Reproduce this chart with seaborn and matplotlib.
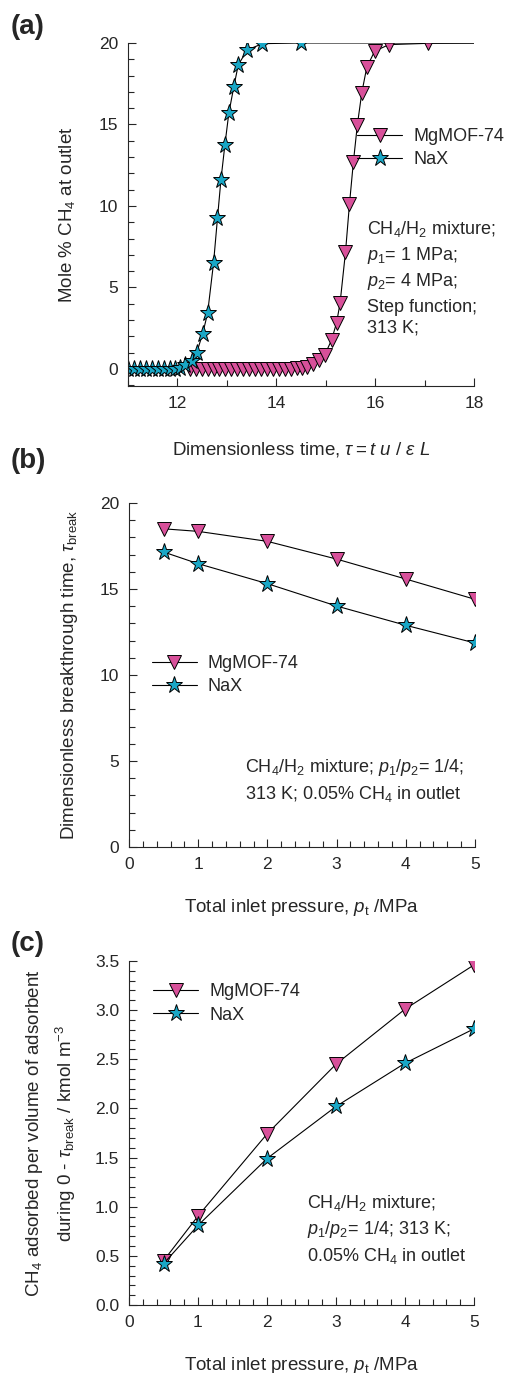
import matplotlib
matplotlib.use("Agg")
import matplotlib.pyplot as plt
from matplotlib.lines import Line2D
from matplotlib.ticker import MultipleLocator, FormatStrFormatter
import seaborn as sns

# colours of the two adsorbents
mg_color = '#d8509a'
nax_color = '#19a7c6'

# (a) breakthrough curves, last point (18, 20) is only for the line
mg_time = [12.25, 12.37, 12.49, 12.61, 12.73, 12.85, 12.97, 13.09, 13.21, 13.33,
           13.45, 13.57, 13.69, 13.81, 13.93, 14.05, 14.17, 14.29, 14.41, 14.52,
           14.62, 14.75, 14.86, 14.98, 15.12, 15.22, 15.29, 15.40, 15.48, 15.56,
           15.64, 15.73, 15.83, 15.99, 16.28, 17.07, 18.0]
mg_mole = [0, 0, 0, 0, 0, 0, 0, 0, 0, 0,
           0, 0, 0, 0, 0, 0, 0, 0.01, 0.03, 0.08,
           0.14, 0.29, 0.55, 0.86, 1.78, 2.84, 4.03, 7.16, 10.1, 12.7,
           14.97, 16.95, 18.5, 19.5, 19.9, 19.98, 20.0]
nax_time = [11.0, 11.12, 11.24, 11.36, 11.48, 11.6, 11.72, 11.84, 11.95, 12.05,
            12.16, 12.29, 12.39, 12.51, 12.61, 12.73, 12.81, 12.88, 12.96, 13.04,
            13.14, 13.23, 13.41, 13.72, 14.5, 18.0]
nax_mole = [0, 0, 0, 0, 0, 0, 0, 0, 0.02, 0.08,
            0.25, 0.49, 1.0, 2.15, 3.41, 6.48, 9.24, 11.6, 13.74, 15.7,
            17.3, 18.65, 19.57, 19.96, 20.0, 20.0]

# (b) breakthrough times and (c) amounts adsorbed
pressure = [0.5, 1, 2, 3, 4, 5]
mg_tau = [18.5, 18.35, 17.77, 16.74, 15.58, 14.4]
nax_tau = [17.15, 16.47, 15.31, 14.01, 12.89, 11.86]
mg_uptake = [0.45, 0.905, 1.74, 2.45, 3.01, 3.46]
nax_uptake = [0.42, 0.81, 1.49, 2.02, 2.46, 2.81]

sns.set_style("ticks")
plt.rcParams['font.family'] = ['Liberation Sans', 'DejaVu Sans']
plt.rcParams['mathtext.fontset'] = 'custom'
plt.rcParams['mathtext.rm'] = 'Liberation Sans'
plt.rcParams['mathtext.it'] = 'Liberation Sans:italic'
plt.rcParams['mathtext.bf'] = 'Liberation Sans:bold'

W, H = 505, 1373
fig = plt.figure(figsize=(W / 100, H / 100), dpi=100)

LAB = 13.5   # axis titles
TXT = 13     # legend and notes


def px_axes(left, top, right, bottom):
    return fig.add_axes([left / W, 1 - bottom / H, (right - left) / W, (bottom - top) / H])


def ptext(x, y, s, **kw):
    fig.text(x / W, 1 - y / H, s, va='center', ha='left', fontsize=TXT, **kw)


mg_style = dict(color='black', lw=0.8, marker='v', markersize=10,
                markerfacecolor=mg_color, markeredgecolor='black', markeredgewidth=0.7)
nax_style = dict(color='black', lw=0.8, marker='*', markersize=12.5,
                 markerfacecolor=nax_color, markeredgecolor='black', markeredgewidth=0.7)


def style_axes(ax):
    sns.despine(ax=ax)
    for s in ['left', 'bottom']:
        ax.spines[s].set_linewidth(0.8)
    ax.tick_params(which='major', direction='in', length=6, width=0.8, labelsize=12.5, pad=7)
    ax.tick_params(which='minor', direction='in', length=4.5, width=0.8)


def add_legend(ax, x, y):
    handles = [Line2D([], [], **mg_style), Line2D([], [], **nax_style)]
    ax.legend(handles, ['MgMOF-74', 'NaX'], loc='upper left', bbox_to_anchor=(x, y),
              frameon=False, fontsize=TXT, handlelength=2.5, handletextpad=0.6,
              labelspacing=0.35, borderpad=0, borderaxespad=0)


# ---- (a)
ax1 = px_axes(128, 43, 474, 386)
sns.lineplot(x=mg_time, y=mg_mole, ax=ax1, sort=False, estimator=None,
             markevery=list(range(len(mg_time) - 1)), **mg_style)
sns.lineplot(x=nax_time, y=nax_mole, ax=ax1, sort=False, estimator=None,
             markevery=list(range(len(nax_time) - 1)), **nax_style)
ax1.set_xlim(11, 18)
ax1.set_ylim(-1.05, 20)
ax1.xaxis.set_major_locator(MultipleLocator(2))
ax1.xaxis.set_minor_locator(MultipleLocator(1))
ax1.yaxis.set_major_locator(MultipleLocator(5))
ax1.yaxis.set_minor_locator(MultipleLocator(1))
style_axes(ax1)
ax1.set_xlabel(r'Dimensionless time, $\tau = t\ u\ /\ \varepsilon\ L$', fontsize=LAB, labelpad=21)
ax1.set_ylabel(r'Mole % CH$_4$ at outlet', fontsize=LAB, labelpad=16)
add_legend(ax1, 0.662, 0.752)
ptext(367, 229, r'CH$_4$/H$_2$ mixture;')
ptext(367, 255, r'$p_1$= 1 MPa;')
ptext(367, 281, r'$p_2$= 4 MPa;')
ptext(367, 307, 'Step function;')
ptext(367, 328, '313 K;')

# ---- (b)
ax2 = px_axes(129, 503, 475, 847)
sns.lineplot(x=pressure, y=mg_tau, ax=ax2, sort=False, estimator=None, **mg_style)
sns.lineplot(x=pressure, y=nax_tau, ax=ax2, sort=False, estimator=None, **nax_style)
ax2.set_xlim(0, 5)
ax2.set_ylim(0, 20)
ax2.xaxis.set_major_locator(MultipleLocator(1))
ax2.xaxis.set_minor_locator(MultipleLocator(0.2))
ax2.yaxis.set_major_locator(MultipleLocator(5))
ax2.yaxis.set_minor_locator(MultipleLocator(1))
style_axes(ax2)
ax2.set_xlabel(r'Total inlet pressure, $p_{\rm t}$ /MPa', fontsize=LAB, labelpad=18)
ax2.set_ylabel(r'Dimensionless breakthrough time, $\tau_{\rm break}$', fontsize=LAB, labelpad=14)
add_legend(ax2, 0.066, 0.558)
ptext(245, 768, r'CH$_4$/H$_2$ mixture; $p_1$/$p_2$= 1/4;')
ptext(245, 794, r'313 K; 0.05% CH$_4$ in outlet')

# ---- (c)
ax3 = px_axes(129, 961, 474, 1305)
sns.lineplot(x=pressure, y=mg_uptake, ax=ax3, sort=False, estimator=None, **mg_style)
sns.lineplot(x=pressure, y=nax_uptake, ax=ax3, sort=False, estimator=None, **nax_style)
ax3.set_xlim(0, 5)
ax3.set_ylim(0, 3.5)
ax3.xaxis.set_major_locator(MultipleLocator(1))
ax3.xaxis.set_minor_locator(MultipleLocator(0.2))
ax3.yaxis.set_major_locator(MultipleLocator(0.5))
ax3.yaxis.set_minor_locator(MultipleLocator(0.1))
ax3.yaxis.set_major_formatter(FormatStrFormatter('%.1f'))
style_axes(ax3)
ax3.set_xlabel(r'Total inlet pressure, $p_{\rm t}$ /MPa', fontsize=LAB, labelpad=18)
ax3.set_ylabel('CH$_4$ adsorbed per volume of adsorbent\n'
               r'during 0 - $\tau_{\rm break}$ / kmol m$^{-3}$', fontsize=LAB, labelpad=12,
               linespacing=1.5)
add_legend(ax3, 0.07, 0.935)
ptext(307, 1203, r'CH$_4$/H$_2$ mixture;')
ptext(307, 1229, r'$p_1$/$p_2$= 1/4; 313 K;')
ptext(307, 1256, r'0.05% CH$_4$ in outlet')

# panel letters
for lab, yy in [('(a)', 27), ('(b)', 461), ('(c)', 944)]:
    fig.text(11 / W, 1 - yy / H, lab, fontsize=20, fontweight='bold', va='center', ha='left')

fig.savefig('out.png', dpi=100)
